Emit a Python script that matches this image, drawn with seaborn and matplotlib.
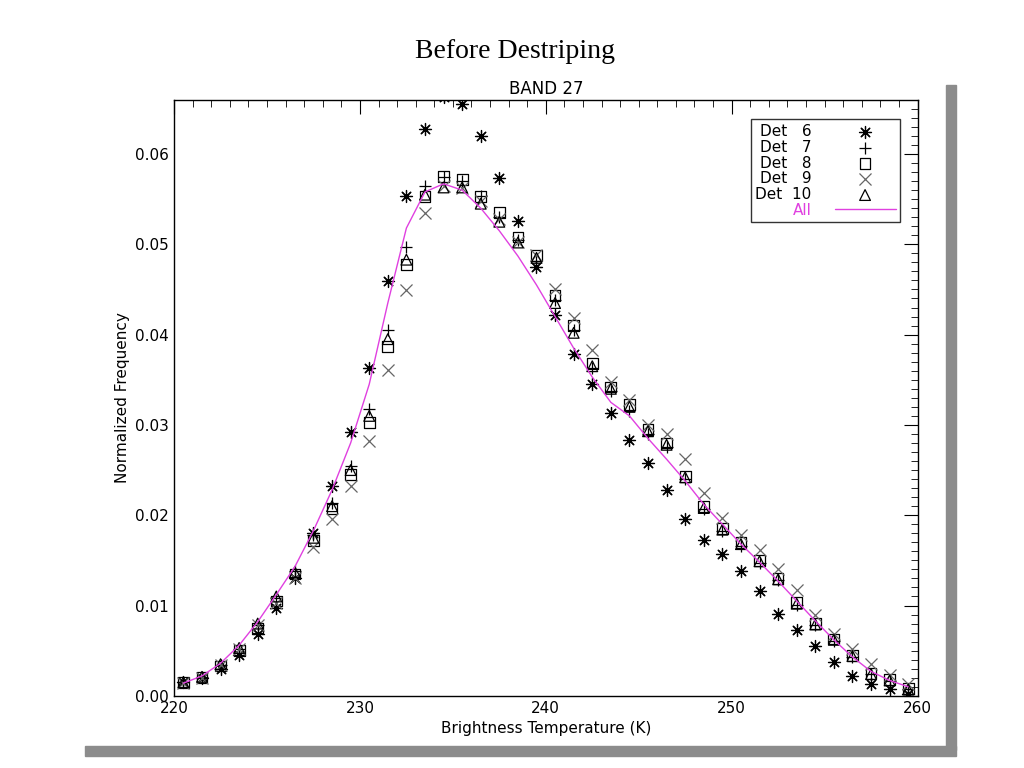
import numpy as np
import pandas as pd
import matplotlib
matplotlib.use('Agg')
import matplotlib.pyplot as plt
import matplotlib.patches as mpatches
from matplotlib.ticker import MultipleLocator
import seaborn as sns

temps = [220.5 + i for i in range(40)]

det6 = [.0015, .0020, .0030, .0045, .0068, .0097, .0130, .0180, .0232, .0292,
        .0363, .0459, .0553, .0628, .0663, .0655, .0620, .0573, .0526, .0475,
        .0422, .0378, .0345, .0313, .0283, .0258, .0228, .0196, .0173, .0157,
        .0138, .0116, .0091, .0073, .0055, .0037, .0022, .0013, .0007, .0002]
det7 = [.0015, .0021, .0034, .0052, .0078, .0108, .0138, .0178, .0213, .0254,
        .0318, .0405, .0497, .0565, .0575, .0570, .0553, .0530, .0505, .0482,
        .0438, .0405, .0363, .0338, .0315, .0290, .0275, .0240, .0207, .0182,
        .0166, .0147, .0128, .0101, .0078, .0061, .0043, .0024, .0016, .0007]
det8 = [.0015, .0020, .0033, .0050, .0075, .0105, .0135, .0172, .0207, .0245,
        .0303, .0387, .0478, .0553, .0575, .0572, .0553, .0535, .0508, .0488,
        .0443, .0410, .0368, .0342, .0323, .0295, .0280, .0243, .0210, .0185,
        .0170, .0150, .0130, .0103, .0080, .0063, .0045, .0025, .0018, .0008]
det9 = [.0014, .0020, .0034, .0052, .0078, .0103, .0130, .0165, .0196, .0232,
        .0282, .0361, .0449, .0535, .0565, .0562, .0548, .0528, .0503, .0488,
        .0450, .0418, .0383, .0347, .0328, .0300, .0290, .0262, .0225, .0197,
        .0178, .0162, .0140, .0117, .0090, .0068, .0052, .0035, .0023, .0013]
det10 = [.0015, .0021, .0035, .0053, .0080, .0110, .0137, .0175, .0210, .0250,
         .0310, .0395, .0483, .0555, .0563, .0563, .0545, .0525, .0502, .0485,
         .0435, .0402, .0365, .0340, .0320, .0293, .0278, .0242, .0208, .0184,
         .0168, .0149, .0129, .0102, .0079, .0062, .0044, .0024, .0017, .0007]
all_dets = [.0014, .0022, .0036, .0056, .0082, .0112, .0143, .0183, .0228, .0280,
            .0345, .0435, .0518, .0558, .0567, .0560, .0540, .0515, .0487, .0455,
            .0420, .0385, .0353, .0325, .0310, .0285, .0262, .0238, .0212, .0190,
            .0168, .0148, .0127, .0105, .0083, .0062, .0043, .0027, .0017, .0010]

labels = ['Det   6', 'Det   7', 'Det   8', 'Det   9', 'Det  10']
series = [det6, det7, det8, det9, det10]
markers = [(8, 2, 0), '+', 's', 'x', '^']
colors = ['black', 'black', 'black', '#666666', 'black']

sns.set_style('white')
plt.rcParams['font.family'] = ['DejaVu Sans']
plt.rcParams['text.color'] = 'black'
plt.rcParams['axes.labelcolor'] = 'black'
plt.rcParams['xtick.color'] = 'black'
plt.rcParams['ytick.color'] = 'black'

fig = plt.figure(figsize=(10.24, 7.68), dpi=100)
# grey drop shadow of the panel
fig.patches.append(mpatches.Rectangle((946 / 1024, 18 / 768), 10 / 1024, 665 / 768,
                                      transform=fig.transFigure, color='#8c8c8c', zorder=0))
fig.patches.append(mpatches.Rectangle((85 / 1024, 12 / 768), 871 / 1024, 10 / 768,
                                      transform=fig.transFigure, color='#8c8c8c', zorder=0))

ax = fig.add_axes([0.170, 0.094, 0.726, 0.776])

df_all = pd.DataFrame({'temp': temps, 'freq': all_dets})
sns.lineplot(data=df_all, x='temp', y='freq', color='#e040e0', lw=1, ax=ax, label='All')

for lab, vals, mk, col in zip(labels, series, markers, colors):
    d = pd.DataFrame({'temp': temps, 'freq': vals})
    if mk in ('s', '^'):
        sns.scatterplot(data=d, x='temp', y='freq', marker=mk, s=60, facecolor='none',
                        edgecolor=col, linewidth=0.9, ax=ax, label=lab)
    else:
        sns.scatterplot(data=d, x='temp', y='freq', marker=mk, s=75, color=col,
                        linewidth=0.9, ax=ax, label=lab)

ax.set_xlim(220, 260)
ax.set_ylim(0, 0.066)
ax.xaxis.set_major_locator(MultipleLocator(10))
ax.xaxis.set_minor_locator(MultipleLocator(1))
ax.yaxis.set_major_locator(MultipleLocator(0.01))
ax.yaxis.set_minor_locator(MultipleLocator(0.001))
ax.yaxis.set_major_formatter(matplotlib.ticker.FormatStrFormatter('%.2f'))
ax.tick_params(which='both', direction='in', top=True, right=True, labelsize=11)
ax.tick_params(which='major', length=10)
ax.tick_params(which='minor', length=5)
for s in ax.spines.values():
    s.set_color('black')
    s.set_linewidth(1)

ax.set_xlabel('Brightness Temperature (K)', fontsize=11)
ax.set_ylabel('Normalized Frequency', fontsize=11)
ax.set_title('BAND 27', fontsize=12, pad=4)
fig.text(0.503, 0.925, 'Before Destriping', ha='center', fontsize=20, family='Liberation Serif')

handles, labs = ax.get_legend_handles_labels()
order = [1, 2, 3, 4, 5, 0]
leg = ax.legend([handles[i] for i in order], [labs[i] for i in order], loc='upper right',
                bbox_to_anchor=(0.987, 0.98), markerfirst=False, frameon=True, fancybox=False,
                edgecolor='black', fontsize=11, labelspacing=0.05, handlelength=4,
                borderpad=0.3, handletextpad=1.5)
leg.get_frame().set_linewidth(1)
for t in leg.get_texts():
    t.set_ha('right')
leg.get_texts()[-1].set_color('#e040e0')

fig.savefig('out.png', dpi=100)
